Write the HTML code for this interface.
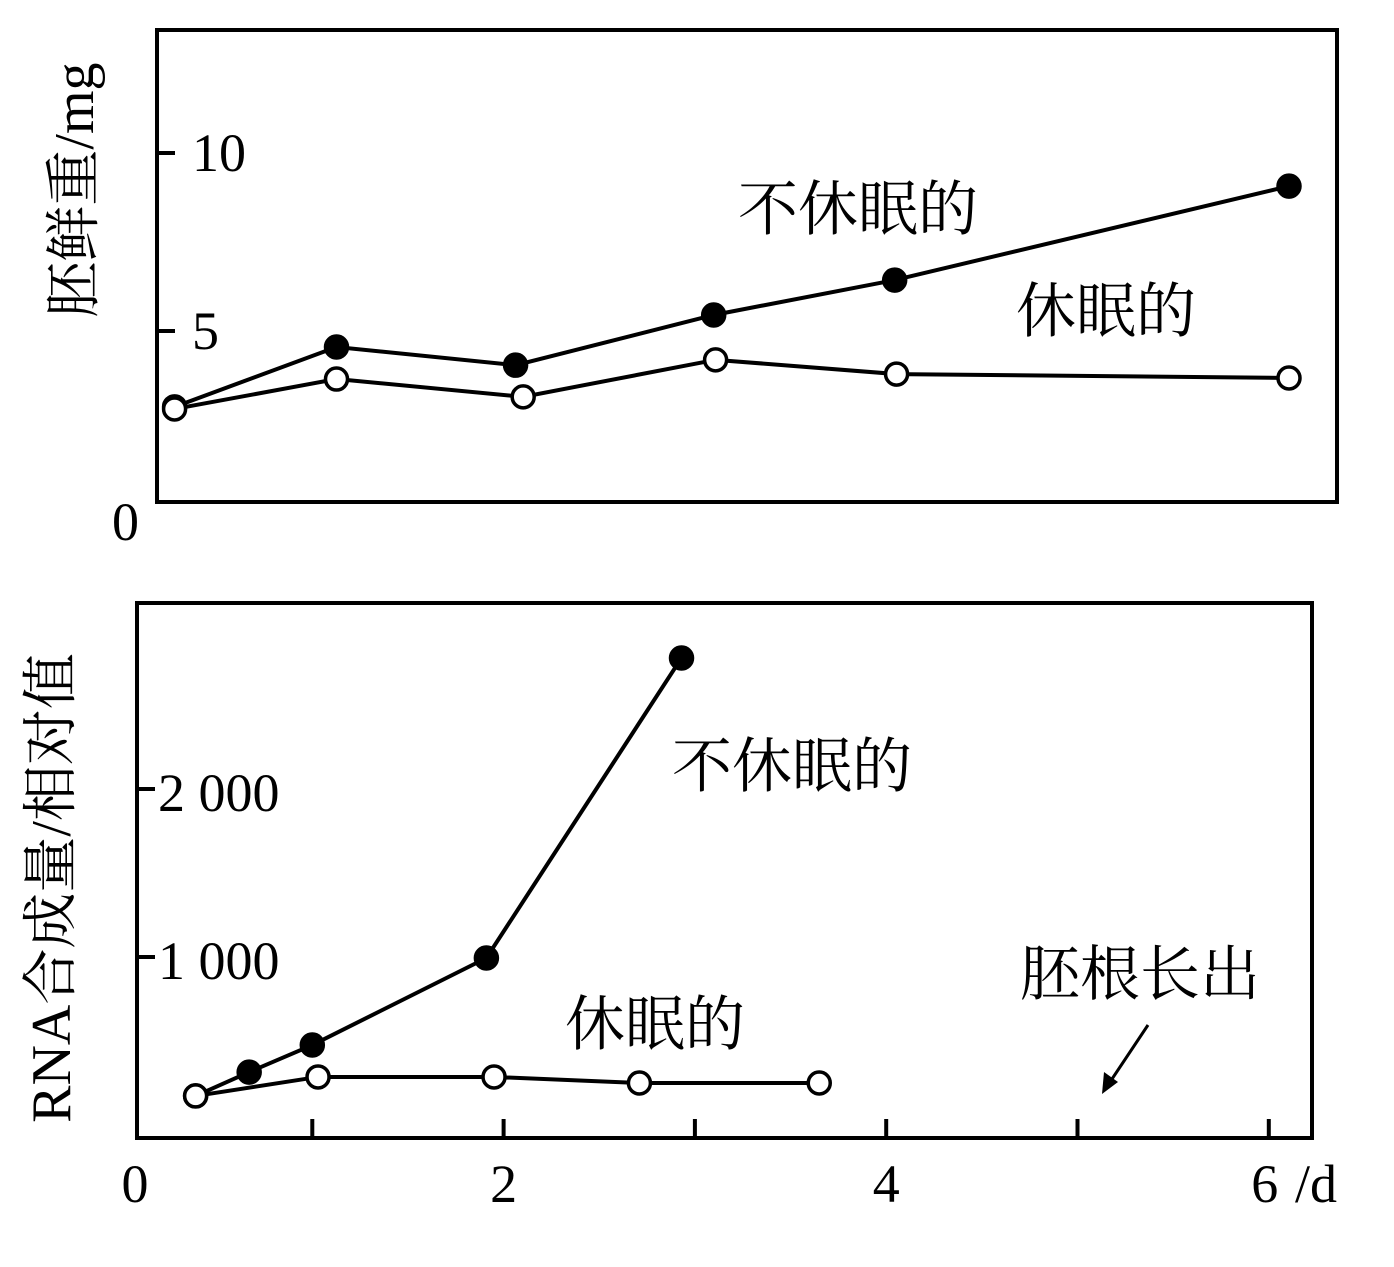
<!DOCTYPE html>
<html><head><meta charset="utf-8"><style>
body{margin:0;background:#fff}
svg{display:block}
text{font-family:"Liberation Serif","Noto Serif CJK SC",serif;fill:#000}
</style></head><body>
<svg id="c" width="1394" height="1267" viewBox="0 0 1394 1267"></svg>
<script>
// Top chart data
const topDaysFilled=[0.15,1.0,1.94,2.98,3.93,6.0];
const topFilled=[2.87,4.55,4.04,5.45,6.43,9.07];
const topDaysOpen=[0.15,1.0,1.98,2.99,3.94,6.0];
const topOpen=[2.81,3.65,3.15,4.19,3.79,3.68];
const topTicks=[5,10];
// Bottom chart data
const botDaysFilled=[0.39,0.67,1.0,1.91,2.93];
const botFilled=[173,315,476,994,2780];
const botDaysOpen=[0.39,1.03,1.95,2.71,3.65];
const botOpen=[173,286,286,250,250];
const botYTicks=[1000,2000];
const botYLabels=["1 000","2 000"];
const xTicks=[1,2,3,4,5,6];
const xLabels={0:"0",2:"2",4:"4",6:"6"};

const NS="http://www.w3.org/2000/svg";
const svg=document.getElementById('c');
function mk(tag,attrs,name,parent){const e=document.createElementNS(NS,tag);for(const k in attrs)e.setAttribute(k,attrs[k]);


(parent||svg).appendChild(e);return e;}
function txt(x,y,s,size,name,anchor,extra){const t=mk('text',Object.assign({x:x,y:y,'font-size':size,'text-anchor':anchor||'start'},extra||{}),name);t.textContent=s;return t;}

// top scales
const tx=d=>146+190.5*d, ty=v=>509-35.6*v;
// bottom scales
const bx=d=>121+191.3*d, by=v=>1125-0.168*v;

// top frame
mk('rect',{x:157,y:30,width:1180,height:472,fill:'none',stroke:'#000','stroke-width':4},'top-plot-frame');
topTicks.forEach(v=>{mk('line',{x1:157,x2:175,y1:ty(v),y2:ty(v),stroke:'#000','stroke-width':4},'top-y-tick');
txt(192,ty(v)+18,String(v),54,'top-y-tick-label');});
txt(112,540,"0",54,'top-y-zero-label');
txt(0,0,"胚鲜重/mg",56,'top-y-axis-title','middle',{transform:'translate(93,190) rotate(-90)'});

function series(days,vals,sx,sy,filled,name){
 const pts=days.map((d,i)=>sx(d)+','+sy(vals[i])).join(' ');
 mk('polyline',{points:pts,fill:'none',stroke:'#000','stroke-width':4},name+'-line');
 days.forEach((d,i)=>mk('circle',{cx:sx(d),cy:sy(vals[i]),r:11,fill:filled?'#000':'#fff',stroke:'#000','stroke-width':3.5},name+'-point'));
}
series(topDaysFilled,topFilled,tx,ty,true,'top-non-dormant');
series(topDaysOpen,topOpen,tx,ty,false,'top-dormant');
txt(738,230,"不休眠的",60,'top-label-non-dormant');
txt(1016,332,"休眠的",60,'top-label-dormant');

// bottom frame
mk('rect',{x:137,y:603,width:1175,height:535,fill:'none',stroke:'#000','stroke-width':4},'bottom-plot-frame');
botYTicks.forEach((v,i)=>{mk('line',{x1:137,x2:155,y1:by(v),y2:by(v),stroke:'#000','stroke-width':4},'bottom-y-tick');
txt(158,by(v)+22,botYLabels[i],54,'bottom-y-tick-label');});
xTicks.forEach(d=>{mk('line',{x1:bx(d),x2:bx(d),y1:1138,y2:1119,stroke:'#000','stroke-width':4},'bottom-x-tick');});
txt(135,1202,"0",54,'x-tick-label','middle');
[2,4,6].forEach(d=>txt(bx(d)-(d==6?4:0),1202,xLabels[d],54,'x-tick-label','middle'));
txt(1295,1202,"/d",54,'x-unit-label');
txt(0,0,"RNA合成量/相对值",56,'bottom-y-axis-title','middle',{transform:'translate(70,888) rotate(-90)'});
series(botDaysFilled,botFilled,bx,by,true,'bottom-non-dormant');
series(botDaysOpen,botOpen,bx,by,false,'bottom-dormant');
txt(672,787,"不休眠的",60,'bottom-label-non-dormant');
txt(565,1045,"休眠的",60,'bottom-label-dormant');
txt(1020,995,"胚根长出",60,'radicle-emergence-label');
mk('line',{x1:1148,y1:1025,x2:1110,y2:1082,stroke:'#000','stroke-width':3},'radicle-arrow-shaft');
mk('polygon',{points:'1102,1094 1104,1072 1118,1082',fill:'#000'},'radicle-arrow-head');
</script>
</body></html>
